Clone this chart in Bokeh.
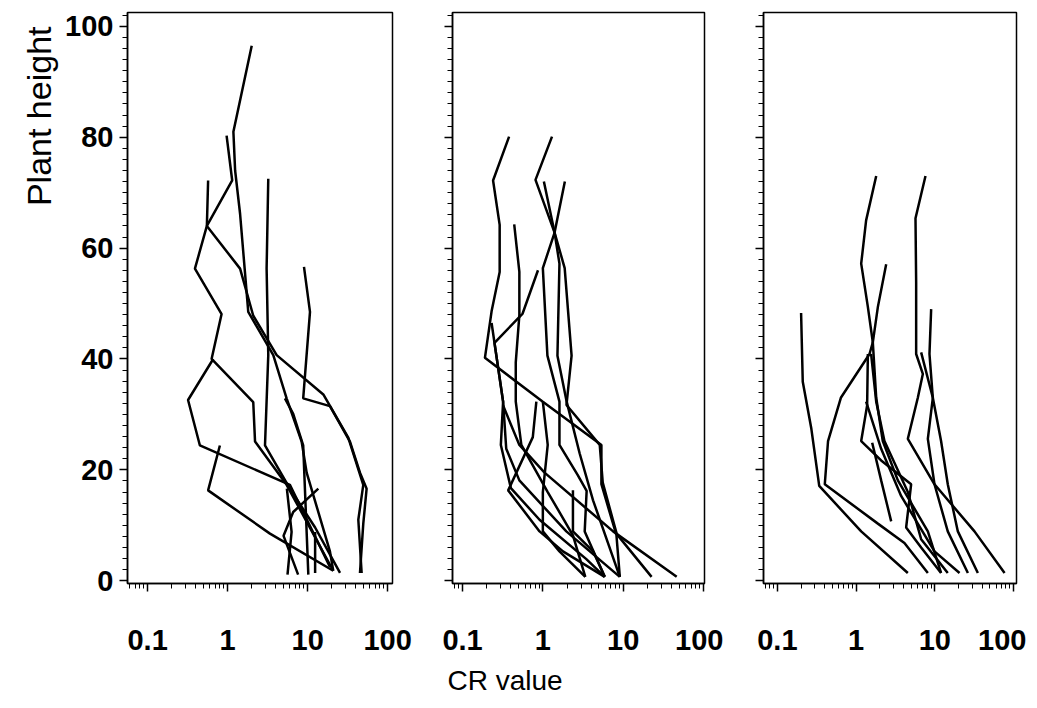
from bokeh.plotting import figure
from bokeh.models import ColumnDataSource, Title, FixedTicker, Range1d, CustomJSTickFormatter
from bokeh.layouts import row
from bokeh.embed import file_html
from bokeh.resources import INLINE

# ---------------- data (CR value, plant height) ----------------
p1_cr = [
    [2.0, 1.18, 1.24, 1.43, 1.81, 3.72, 5.46, 8.41, 9.72, 19.0, 20.9],
    [0.97, 1.14, 0.55, 1.43, 2.09, 4.10, 15.7, 32.2, 49.6, 43.0, 47.3],
    [0.57, 0.55, 0.39, 0.84, 0.63, 2.09, 2.20, 5.46, 20.9],
    [3.22, 3.07, 3.22, 2.93, 6.0, 12.4, 25.4],
    [9.0, 10.7, 9.7, 8.8, 19.0, 33.8, 45.1, 54.6, 49.6, 45.1],
    [0.66, 0.32, 0.45, 6.0, 19.0],
    [0.80, 0.57, 3.38, 20.9],
    [5.2, 6.6, 8.8, 10.2],
    [13.6, 6.6, 5.0, 7.6],
    [12.4, 12.4],
    [5.5, 6.3, 5.6],
]
p1_h = [
    [96.5, 81.0, 74.0, 66.2, 48.5, 40.7, 32.9, 25.1, 19.5, 5.3, 1.8],
    [80.3, 72.2, 64.0, 56.3, 47.8, 40.7, 33.6, 25.8, 17.3, 11.0, 1.4],
    [72.2, 64.0, 56.3, 48.1, 40.0, 32.2, 25.1, 17.3, 1.8],
    [72.5, 56.3, 40.7, 24.4, 16.6, 9.6, 1.4],
    [56.6, 48.5, 40.7, 32.9, 31.5, 25.1, 19.5, 16.6, 10.3, 1.4],
    [40.0, 32.6, 24.4, 17.3, 2.5],
    [24.4, 16.3, 8.5, 1.8],
    [32.9, 30.1, 24.4, 1.1],
    [16.6, 12.4, 8.1, 1.1],
    [8.8, 1.4],
    [16.6, 8.8, 1.1],
]

p2_cr = [
    [0.38, 0.24, 0.29, 0.29, 0.23, 0.19, 1.0, 5.36, 5.36, 8.25, 9.09],
    [1.30, 0.81, 1.40, 1.0, 1.14, 1.61, 1.61, 2.71, 3.51, 3.32, 5.90],
    [1.03, 1.40, 1.87, 2.28, 1.97, 5.11, 5.57, 8.33, 22.6],
    [1.88, 1.40, 1.61, 1.52, 1.98, 2.87, 4.22, 9.09],
    [0.87, 0.56, 0.25, 0.32, 0.30, 0.40, 0.91, 3.48, 5.90],
    [0.44, 0.51, 0.51, 0.46, 0.46, 0.54, 1.15, 2.37, 3.38],
    [0.83, 0.75, 0.37, 0.91, 1.78, 5.90],
    [1.0, 1.15, 1.0, 1.0, 1.61, 3.38],
    [2.37, 2.37, 4.22, 5.90],
    [0.32, 0.51, 1.05, 7.50, 46.4],
    [0.23, 0.32, 0.35, 0.51, 1.96, 9.09],
]
p2_h = [
    [80.1, 72.2, 64.2, 55.7, 48.6, 40.2, 32.3, 24.5, 17.4, 8.2, 0.7],
    [80.1, 72.3, 62.8, 56.4, 40.6, 32.3, 24.5, 19.1, 16.2, 8.9, 0.7],
    [72.0, 62.8, 56.4, 40.6, 31.7, 24.5, 17.7, 8.4, 0.7],
    [72.0, 62.8, 57.2, 40.6, 32.3, 23.0, 14.5, 0.7],
    [56.0, 48.2, 42.9, 32.3, 24.5, 16.7, 11.0, 3.9, 0.7],
    [64.3, 55.7, 47.9, 39.4, 32.3, 24.5, 16.0, 8.2, 0.7],
    [32.3, 25.9, 16.3, 8.9, 5.3, 0.7],
    [32.3, 24.5, 16.0, 8.9, 5.3, 0.7],
    [16.3, 8.9, 5.3, 0.7],
    [31.6, 24.5, 19.5, 8.9, 0.7],
    [46.5, 32.3, 23.8, 18.1, 8.9, 0.7],
]

p3_cr = [
    [1.80, 1.34, 1.16, 1.41, 1.63, 1.80, 2.18, 3.39, 8.15, 12.0],
    [7.61, 5.68, 5.79, 5.79, 7.04, 6.08, 4.54, 9.9, 31.9, 76.9],
    [2.41, 1.89, 1.63, 1.48, 0.64, 0.44, 0.40, 1.89, 4.11, 8.15],
    [8.98, 8.55, 9.43, 8.15, 9.9, 14.6, 26.3],
    [0.20, 0.21, 0.27, 0.34, 1.16, 4.54],
    [1.41, 1.38, 1.16, 2.08, 5.0, 4.32, 6.70, 12.0],
    [1.60, 2.08, 2.79],
    [6.70, 9.43, 12.0, 14.6, 19.6, 35.2],
    [1.55, 1.80, 2.29, 4.54, 6.70, 14.6],
    [1.34, 2.08, 3.73, 9.9, 20.6],
]
p3_h = [
    [73.0, 65.0, 57.2, 49.4, 43.0, 33.0, 25.2, 18.1, 8.9, 1.4],
    [73.0, 65.4, 53.7, 40.9, 37.3, 33.0, 25.6, 17.4, 8.9, 1.4],
    [57.1, 49.4, 43.0, 40.9, 33.0, 25.2, 17.4, 10.3, 6.8, 1.4],
    [49.0, 40.9, 33.0, 25.6, 17.4, 8.9, 1.4],
    [48.3, 35.9, 27.4, 17.1, 8.9, 1.4],
    [40.9, 31.6, 25.2, 21.7, 17.4, 9.6, 6.0, 1.4],
    [24.9, 18.1, 10.7],
    [41.2, 33.0, 25.2, 17.4, 8.9, 1.4],
    [40.9, 32.3, 25.2, 16.0, 7.5, 1.4],
    [32.3, 23.8, 15.3, 5.3, 1.4],
]

x_ticks = [0.1, 1, 10, 100]
x_tick_labels = ["0.1", "1", "10", "100"]
y_ticks = [0, 20, 40, 60, 80, 100]

FONT = "Liberation Sans"

x_minor = [m * 10.0 ** e for e in range(-2, 3) for m in range(1, 10)]
y_minor = list(range(0, 103, 2))

xfmt_code = "const labs = %s; const tks = %s; for (let i = 0; i < tks.length; i++) { if (Math.abs(tick - tks[i]) < 1e-9 * tks[i]) return labs[i]; } return '';" % (
    str(x_tick_labels), str(x_ticks))


def make_panel(crs, hs, xr, fw, bl, br, show_ylabels):
    p = figure(x_axis_type="log", x_range=Range1d(*xr), y_range=Range1d(-0.5, 102.5),
               frame_width=fw, frame_height=571,
               min_border_left=bl, min_border_right=br, min_border_top=12, min_border_bottom=110,
               output_backend="svg", toolbar_location=None, title=None)
    p.background_fill_color = "white"
    p.border_fill_color = "white"
    p.outline_line_color = "black"
    p.outline_line_width = 1.5
    p.grid.visible = False

    src = ColumnDataSource(dict(xs=crs, ys=hs))
    p.multi_line(xs="xs", ys="ys", source=src, line_color="black", line_width=2.5)

    xa = p.xaxis[0]
    xa.ticker = FixedTicker(ticks=x_ticks, minor_ticks=x_minor)
    xa.formatter = CustomJSTickFormatter(code=xfmt_code)
    ya = p.yaxis[0]
    ya.ticker = FixedTicker(ticks=y_ticks, minor_ticks=y_minor)
    if not show_ylabels:
        ya.formatter = CustomJSTickFormatter(code="return '';")
    for ax in (xa, ya):
        ax.axis_line_color = "black"
        ax.axis_line_width = 1.5
        ax.major_tick_line_color = "black"
        ax.minor_tick_line_color = "black"
        ax.major_tick_line_width = 1.5
        ax.major_tick_out = 8
        ax.major_tick_in = 0
        ax.minor_tick_out = 5
        ax.minor_tick_in = 0
        ax.major_label_text_font = FONT
        ax.major_label_text_font_size = "29px"
        ax.major_label_text_font_style = "bold"
        ax.major_label_text_color = "black"
    xa.major_label_standoff = 38
    ya.major_label_standoff = 6
    return p


p1 = make_panel(p1_cr, p1_h, (0.056, 115), 265, 127, 20, True)
p2 = make_panel(p2_cr, p2_h, (0.075, 103), 252, 40, 19, False)
p3 = make_panel(p3_cr, p3_h, (0.0666, 109), 253, 40, 10, False)

p1.add_layout(Title(text="Plant height", align="right", offset=14, text_font=FONT, text_font_size="34px",
                    text_font_style="normal", text_color="black"), "left")
p2.add_layout(Title(text="CR value", align="left", offset=-5, standoff=20, text_font=FONT,
                    text_font_size="28px", text_font_style="normal", text_color="black"), "below")

layout = row(p1, p2, p3)
open("out.html", "w").write(file_html(layout, INLINE))
